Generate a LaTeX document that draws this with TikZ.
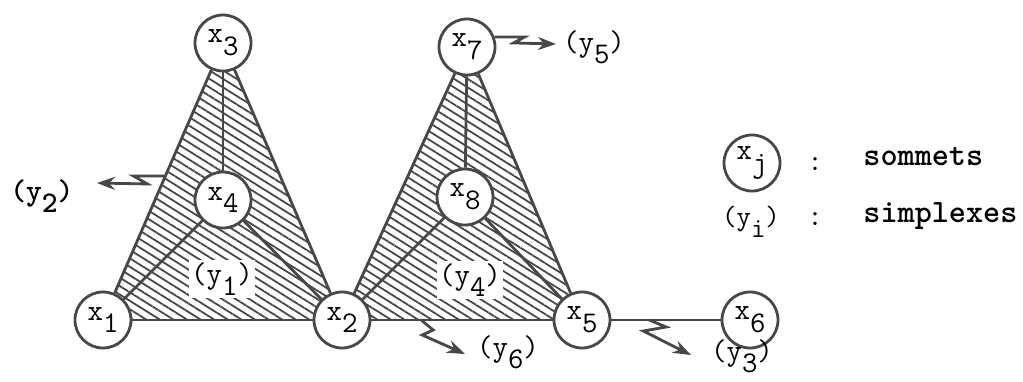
\documentclass[tikz,border=0pt]{standalone}
\usepackage{tikz}
\usetikzlibrary{arrows.meta,calc,backgrounds,patterns.meta}

\newcommand{\idx}[1]{\raisebox{-1ex}{#1}}
\colorlet{ink}{black!72}

\begin{document}
\begin{tikzpicture}[x=0.5pt, y=-0.5pt, font=\ttfamily\fontsize{15}{17}\selectfont,
    vertex/.style={circle, draw=ink, line width=1.4pt, fill=white,
      minimum size=28pt, inner sep=0pt},
    edge/.style={draw=ink, line width=1.4pt},
    hatch/.style={pattern={Lines[angle=-32, distance=3.6pt, line width=0.9pt]},
      pattern color=ink},
    zz/.style={draw=ink, line width=1.4pt, -{Stealth[length=9pt, width=6.5pt]}},
    simplex/.style={anchor=base, inner sep=0pt},
    legend/.style={anchor=base west, inner sep=0pt,
      font=\ttfamily\fontsize{16.3}{18}\selectfont\bfseries}]
    \useasboundingbox (0,0) rectangle (1023,381);
    % vertices
    \node[vertex] (x1) at (103,320) {x\idx{1}};
    \node[vertex] (x2) at (342,320) {x\idx{2}};
    \node[vertex] (x3) at (223,43)  {x\idx{3}};
    \node[vertex] (x4) at (223,200) {x\idx{4}};
    \node[vertex] (x5) at (582,320) {x\idx{5}};
    \node[vertex] (x6) at (750,320) {x\idx{6}};
    \node[vertex] (x7) at (467,47)  {x\idx{7}};
    \node[vertex] (x8) at (465,197) {x\idx{8}};
    % hatched simplexes
    \begin{scope}[on background layer]
      \fill[hatch] (x1.center) -- (x2.center) -- (x3.center) -- cycle;
      \fill[hatch] (x2.center) -- (x5.center) -- (x7.center) -- cycle;
    \end{scope}
    \foreach \a/\b in {x1/x2, x1/x3, x2/x3, x1/x4, x2/x4, x3/x4,
                       x2/x5, x2/x7, x5/x7, x2/x8, x5/x8, x7/x8, x5/x6}{
      \draw[edge] (\a) -- (\b);
    }
    % simplex labels
    \node[simplex, fill=white, inner sep=1pt] (y1) at (222,283) {(y\idx{1})};
    \node[simplex, font=\ttfamily\fontsize{15}{17}\selectfont\bfseries] (y2) at (42,200) {(y\idx{2})};
    \node[simplex] (y3) at (742,360) {(y\idx{3})};
    \node[simplex, fill=white, inner sep=1pt] (y4) at (470,284) {(y\idx{4})};
    \node[simplex] (y5) at (594,51)  {(y\idx{5})};
    \node[simplex] (y6) at (508,356) {(y\idx{6})};
    % zigzag arrows
    \coordinate (s2) at ($(x1)!0.52!(x3)$);
    \coordinate (t2) at (97,183);
    \draw[zz] (s2) -- ++(-32,0) -- ++(14,8) -- (t2);
    \coordinate (t5) at (556,44);
    \draw[zz] (x7.20) -- ++(30,0) -- ++(-11,6) -- (t5);
    \coordinate (s6) at ($(x2)!0.33!(x5)$);
    \coordinate (t6) at (465,354);
    \draw[zz] (s6) -- ++(12,10) -- ++(-11,5) -- (t6);
    \coordinate (s3) at ($(x5)!0.4!(x6)$);
    \coordinate (t3) at (691,355);
    \draw[zz] (s3) -- ++(17,7) -- ++(-23,4) -- (t3);
    % legend
    \node[vertex] (xj) at (752,163) {x\idx{j}};
    \node[simplex, font=\ttfamily\fontsize{14}{16}\selectfont] (yi) at (751,225) {(y\idx{i})};
    \node[simplex] (c1) at (815,170) {:};
    \node[simplex] (c2) at (815,225) {:};
    \node[legend] (l1) at (863,165) {sommets};
    \node[legend] (l2) at (863,222) {simplexes};
  \end{tikzpicture}
\end{document}
